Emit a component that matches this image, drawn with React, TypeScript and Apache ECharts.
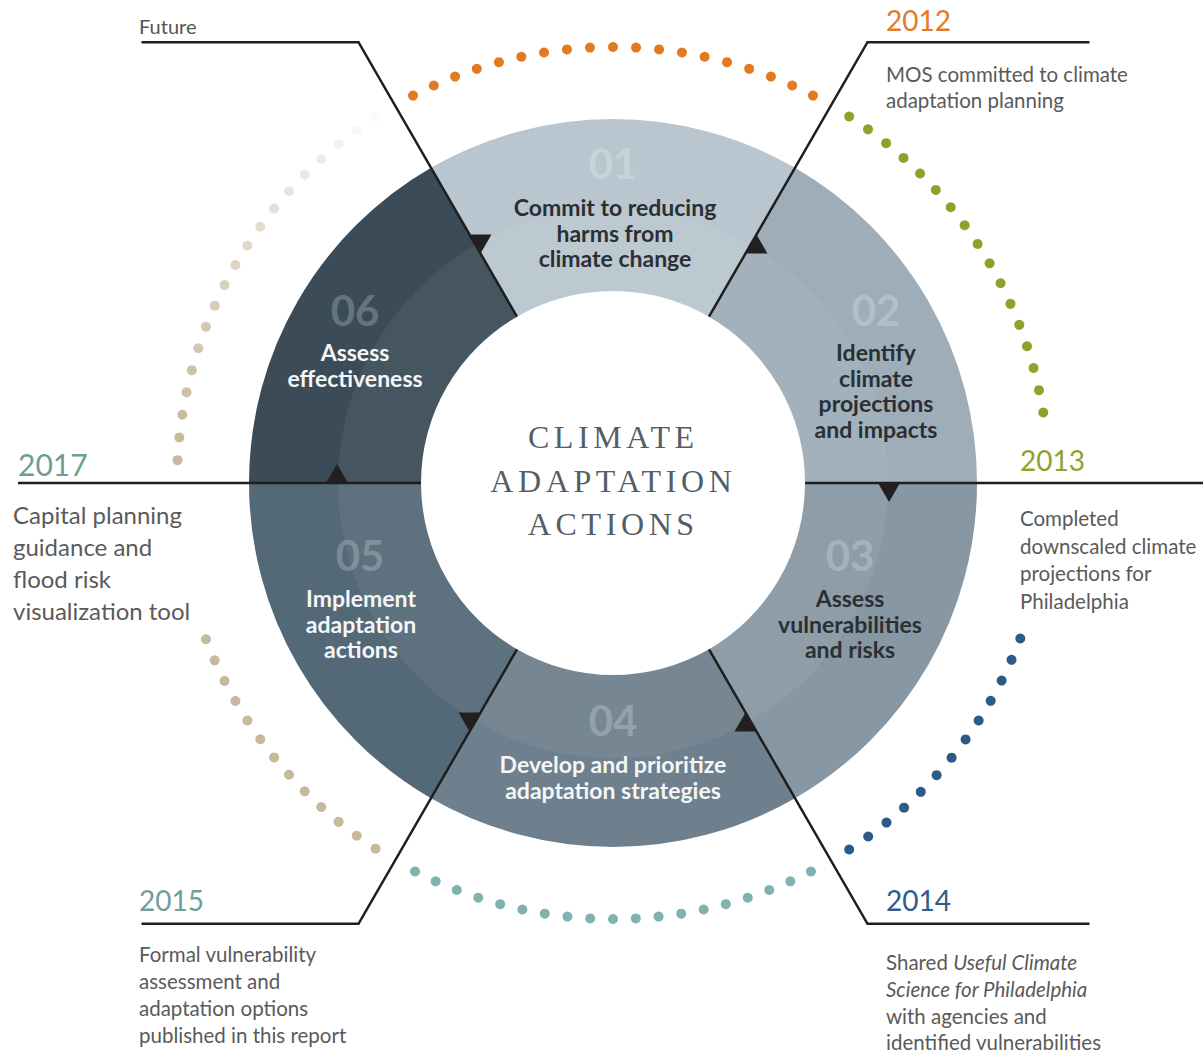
import React, { useEffect, useRef } from "react";
import * as echarts from "echarts";

// ---------- data ----------
const stepNumbers = ["01", "02", "03", "04", "05", "06"];
const stepLabels = [
  ["Commit to reducing", "harms from", "climate change"],
  ["Identify", "climate", "projections", "and impacts"],
  ["Assess", "vulnerabilities", "and risks"],
  ["Develop and prioritize", "adaptation strategies"],
  ["Implement", "adaptation", "actions"],
  ["Assess", "effectiveness"],
];
const stepShares = [1, 1, 1, 1, 1, 1];
const stepColors = ["#b9c6cf", "#9eadb8", "#8797a3", "#6e808d", "#546977", "#3b4c58"];
const stepTextColors = ["#2a2f34", "#2a2f34", "#2a2f34", "#f4f6f7", "#f4f6f7", "#f4f6f7"];

const centerTitle = ["CLIMATE", "ADAPTATION", "ACTIONS"];

const milestoneYears = ["2012", "2013", "2014", "2015", "2017", "Future"];
const milestoneTexts = [
  ["MOS committed to climate", "adaptation planning"],
  ["Completed", "downscaled climate", "projections for", "Philadelphia"],
  ["Shared Useful Climate", "Science for Philadelphia", "with agencies and", "identified vulnerabilities"],
  ["Formal vulnerability", "assessment and", "adaptation options", "published in this report"],
  ["Capital planning", "guidance and", "flood risk", "visualization tool"],
  [],
];
const italicPhrases = ["Useful Climate", "Science for Philadelphia"];
const milestoneColors = ["#e07b2a", "#8ea22e", "#2d5d88", "#6f9e9c", "#6c9e95", "#555555"];
const boundaryAngles = [60, 0, -60, -120, 180, 120];

// dotted arcs (degrees, counter-clockwise from 3 o'clock)
const dotArcStart = [117.3, 57.2, -20.9, -63, 201, 177];
const dotArcEnd = [62.7, 9.3, -57.2, -117, 237, 123];
const dotCounts = [19, 17, 13, 19, 13, 19];
const dotColors = ["#e27b20", "#8fa12b", "#2b5b86", "#80b2b0", "#c8b99c", "#c8b99c"];
const dotFading = [false, false, false, false, false, true];

// ---------- layout ----------
const CX = 613;
const CY = 483;
const R_IN = 192;
const R_OUT = 364;
const R_BAND = 275;
const R_DOTS = 436;
const lineReach = [509, 590, 509, 509, 595, 509];
const lineTail = [222, 0, 222, 217, 0, 217];
const numPos = [[613, 163], [876, 310], [850, 555], [613, 720], [360, 555], [355, 310]];
const labelPos = [[615, 207], [876, 352], [850, 598], [613, 764], [361, 598], [355, 352]];
const yearPos = [[886, 20], [1020, 460], [886, 900], [139, 900], [18, 464], [139, 26]];
const yearSize = [28, 28, 28, 28, 30, 20];
const descPos = [[886, 74, 25.5], [1020, 518, 27.7], [886, 962, 26.8], [139, 954, 27], [13, 514, 32]];
const descSize = [20.5, 20.5, 20.5, 20.5, 24];
const FONT = "Lato";
const TITLE_SPACING = 4.6;

const xy = (r: number, deg: number) => {
  const a = (deg * Math.PI) / 180;
  return [CX + r * Math.cos(a), CY - r * Math.sin(a)];
};

function buildOption() {
  const graphics: any[] = [];

  // step numbers and labels
  stepNumbers.forEach((n, i) => {
    graphics.push({
      type: "text",
      z: 20,
      x: numPos[i][0],
      y: numPos[i][1],
      silent: true,
      style: {
        text: n,
        font: `bold 42px ${FONT}`,
        fill: "rgba(255,255,255,0.24)",
        textAlign: "center",
        align: "center",
        textVerticalAlign: "middle",
        verticalAlign: "middle",
      },
    });
    const lh = 25.6;
    graphics.push({
      type: "text",
      z: 20,
      x: labelPos[i][0],
      y: labelPos[i][1] - lh / 2,
      silent: true,
      style: {
        text: stepLabels[i].join("\n"),
        font: `bold 23px ${FONT}`,
        lineHeight: lh,
        fill: stepTextColors[i],
        textAlign: "center",
        align: "center",
        textVerticalAlign: "top",
        verticalAlign: "top",
      },
    });
  });

  // center title
  centerTitle.forEach((t, i) => {
    graphics.push({
      type: "text",
      z: 20,
      x: 611 + TITLE_SPACING / 2,
      y: 437 + i * 43.5,
      silent: true,
      style: {
        text: t,
        font: `32px "Liberation Serif"`,
        fill: "#545e67",
        textAlign: "center",
        align: "center",
        textVerticalAlign: "middle",
        verticalAlign: "middle",
      },
    });
  });

  // milestone lines, arrows, labels
  boundaryAngles.forEach((ang, i) => {
    const p0 = xy(R_IN, ang);
    const p1 = xy(lineReach[i], ang);
    const pts = [p0, p1];
    if (lineTail[i] > 0) {
      const dir = Math.cos((ang * Math.PI) / 180) >= 0 ? 1 : -1;
      pts.push([p1[0] + dir * lineTail[i], p1[1]]);
    }
    graphics.push({
      type: "polyline",
      z: 30,
      silent: true,
      shape: { points: pts },
      style: { stroke: "#1e1e1e", lineWidth: 2.5, fill: null },
    });

    // arrow triangle on the clockwise side
    const a = xy(265, ang);
    const b = xy(287, ang);
    const rad = (ang * Math.PI) / 180;
    const mid = [(a[0] + b[0]) / 2, (a[1] + b[1]) / 2];
    const c = [mid[0] + 19 * Math.sin(rad), mid[1] + 19 * Math.cos(rad)];
    graphics.push({
      type: "polygon",
      z: 31,
      silent: true,
      shape: { points: [a, b, c] },
      style: { fill: "#231f20" },
    });

    // year
    graphics.push({
      type: "text",
      z: 20,
      x: yearPos[i][0],
      y: yearPos[i][1],
      silent: true,
      style: {
        text: milestoneYears[i],
        font: `${yearSize[i]}px ${FONT}`,
        fill: milestoneColors[i],
        textAlign: "left",
        align: "left",
        textVerticalAlign: "middle",
        verticalAlign: "middle",
      },
    });

    // description
    if (milestoneTexts[i].length) {
      const lh = descPos[i][2];
      const size = descSize[i];
      let txt = milestoneTexts[i].join("\n");
      italicPhrases.forEach((p) => {
        txt = txt.replace(p, `{i|${p}}`);
      });
      graphics.push({
        type: "text",
        z: 20,
        x: descPos[i][0],
        y: descPos[i][1] - lh / 2,
        silent: true,
        style: {
          text: txt,
          font: `${size}px ${FONT}`,
          fontSize: size,
          fontFamily: FONT,
          lineHeight: lh,
          fill: "#5a5a5a",
          textAlign: "left",
          align: "left",
          textVerticalAlign: "top",
          verticalAlign: "top",
          rich: {
            i: {
              fontStyle: "italic",
              fontSize: size,
              fontFamily: FONT,
              fill: "#5a5a5a",
              lineHeight: lh,
            },
          },
        },
      });
    }
  });

  // dotted arcs as polar scatter
  const dotSeries = dotCounts.map((count, k) => {
    const data: any[] = [];
    for (let j = 0; j < count; j++) {
      const t = count === 1 ? 0 : j / (count - 1);
      let ang = dotArcStart[k] + (dotArcEnd[k] - dotArcStart[k]) * t;
      ang = ((ang % 360) + 360) % 360;
      const op = dotFading[k] ? Math.max(0.08, 1 - Math.pow(t, 1.3) * 0.95) : 1;
      data.push({ value: [R_DOTS, ang], itemStyle: { color: dotColors[k], opacity: op } });
    }
    return {
      type: "scatter",
      name: milestoneYears[k],
      coordinateSystem: "polar",
      symbol: "circle",
      symbolSize: 10,
      silent: true,
      z: 5,
      data,
    };
  });

  return {
    animation: false,
    backgroundColor: "#ffffff",
    polar: { center: [CX, CY], radius: R_DOTS },
    angleAxis: {
      type: "value",
      min: 0,
      max: 360,
      startAngle: 0,
      clockwise: false,
      show: false,
    },
    radiusAxis: { type: "value", min: 0, max: R_DOTS, show: false },
    series: [
      {
        type: "pie",
        name: "steps",
        center: [CX, CY],
        radius: [R_IN, R_OUT],
        startAngle: 120,
        clockwise: true,
        silent: true,
        z: 1,
        label: { show: false },
        labelLine: { show: false },
        emphasis: { disabled: true },
        itemStyle: { borderWidth: 0 },
        data: stepNumbers.map((n, i) => ({
          name: n,
          value: stepShares[i],
          itemStyle: { color: stepColors[i] },
        })),
      },
      {
        type: "pie",
        name: "band",
        center: [CX, CY],
        radius: [R_IN, R_BAND],
        startAngle: 120,
        clockwise: true,
        silent: true,
        z: 2,
        label: { show: false },
        labelLine: { show: false },
        emphasis: { disabled: true },
        itemStyle: { borderWidth: 0, color: "rgba(255,255,255,0.06)" },
        data: stepNumbers.map((n, i) => ({ name: n + " inner", value: stepShares[i] })),
      },
      ...dotSeries,
    ],
    graphic: { elements: graphics },
  };
}

export default function App() {
  const ref = useRef<HTMLDivElement>(null);
  useEffect(() => {
    document.body.style.margin = "0";
    const el = ref.current!;
    const chart = echarts.init(el, null, { renderer: "svg" });
    const spaceTitle = () => {
      el.querySelectorAll("text").forEach((t) => {
        if (centerTitle.includes((t.textContent || "").trim())) {
          t.setAttribute("letter-spacing", String(TITLE_SPACING));
          (t as any).style.letterSpacing = TITLE_SPACING + "px";
        }
      });
    };
    chart.on("finished", spaceTitle);
    chart.setOption(buildOption() as any);
    spaceTitle();
    const raf = requestAnimationFrame(spaceTitle);
    return () => {
      cancelAnimationFrame(raf);
      chart.dispose();
    };
  }, []);
  return <div ref={ref} style={{ width: 1203, height: 1053 }} />;
}
